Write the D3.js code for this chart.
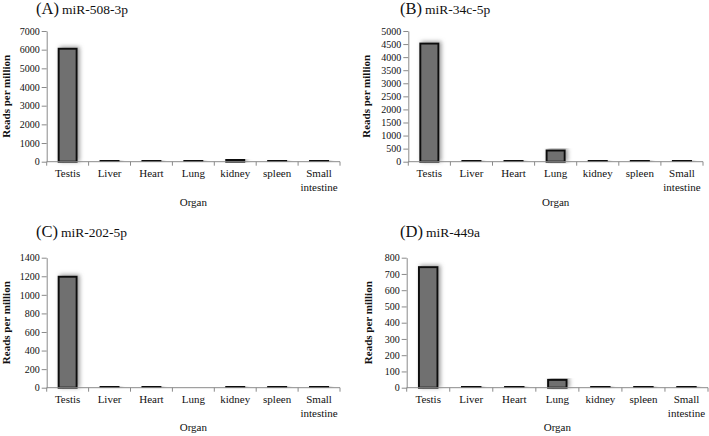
<!DOCTYPE html>
<html>
<head>
<meta charset="utf-8">
<script src="https://cdn.jsdelivr.net/npm/d3@7"></script>
<style>
  html, body { margin: 0; padding: 0; background: #fff; }
  svg text { font-family: 'Liberation Serif', 'Times New Roman', 'DejaVu Serif', serif !important; }
</style>
</head>
<body>
<svg id="chart" width="709" height="436"></svg>
<script>
// ---- data ----
const organs = ["Testis", "Liver", "Heart", "Lung", "kidney", "spleen", "Small intestine"];

const letters = ["(A)", "(B)", "(C)", "(D)"];
const mirNames = ["miR-508-3p", "miR-34c-5p", "miR-202-5p", "miR-449a"];

const valuesA = [6050, 60, 60, 55, 95, 55, 60];
const valuesB = [4520, 30, 30, 430, 30, 50, 30];
const valuesC = [1195, 8, 8, 0, 8, 8, 8];
const valuesD = [742, 6, 6, 48, 6, 6, 6];

const ticksA = [0, 1000, 2000, 3000, 4000, 5000, 6000, 7000];
const ticksB = [0, 500, 1000, 1500, 2000, 2500, 3000, 3500, 4000, 4500, 5000];
const ticksC = [0, 200, 400, 600, 800, 1000, 1200, 1400];
const ticksD = [0, 100, 200, 300, 400, 500, 600, 700, 800];

const yAxisTitle = "Reads per million";
const xAxisTitle = "Organ";

// ---- layout ----
const FONT = "'Liberation Serif', 'Times New Roman', serif";
const panels = [
  { values: valuesA, ticks: ticksA, x0: 46.7, x1: 340, yTop: 31, yBot: 161.7, titleX: 36, titleY: 14, yLabX: 10, orgY: 206 },
  { values: valuesB, ticks: ticksB, x0: 408.3, x1: 703, yTop: 31, yBot: 161.7, titleX: 400, titleY: 14, yLabX: 370, orgY: 206 },
  { values: valuesC, ticks: ticksC, x0: 46.7, x1: 340, yTop: 257.7, yBot: 387.7, titleX: 36, titleY: 237, yLabX: 10, orgY: 431 },
  { values: valuesD, ticks: ticksD, x0: 406.7, x1: 708, yTop: 257.7, yBot: 387.7, titleX: 400, titleY: 237, yLabX: 372, orgY: 431 }
];

const svg = d3.select("#chart").attr("font-family", FONT);

const defs = svg.append("defs");
const f = defs.append("filter").attr("id", "glow")
  .attr("x", "-60%").attr("y", "-20%").attr("width", "220%").attr("height", "140%");
f.append("feDropShadow").attr("dx", 2).attr("dy", -1).attr("stdDeviation", 2.2)
  .attr("flood-color", "#777").attr("flood-opacity", 0.75);

panels.forEach((p, i) => {
  const g = svg.append("g");
  const x = d3.scaleBand().domain(organs).range([p.x0, p.x1]).paddingInner(0).paddingOuter(0);
  const y = d3.scaleLinear().domain([0, d3.max(p.ticks)]).range([p.yBot, p.yTop]);

  // title
  const t = g.append("text").attr("x", p.titleX).attr("y", p.titleY).attr("fill", "#111");
  t.append("tspan").attr("font-size", 16.5).text(letters[i]);
  t.append("tspan").attr("font-size", 13.5).attr("dx", 3).text(mirNames[i]);

  // y axis
  const yAxis = d3.axisLeft(y).tickValues(p.ticks).tickSize(5).tickSizeOuter(0).tickPadding(2)
    .tickFormat(d3.format("d"));
  const ya = g.append("g").attr("transform", `translate(${p.x0},0)`).call(yAxis)
    .attr("font-family", FONT);
  ya.select(".domain").attr("stroke", "#8a8a8a");
  ya.selectAll(".tick line").attr("stroke", "#8a8a8a");
  ya.selectAll(".tick text").attr("font-size", 10).attr("fill", "#111");

  // bars
  const bw = x.bandwidth() * 0.43;
  g.selectAll("rect.bar").data(organs.map((o, k) => ({ o, v: p.values[k] })).filter(d => d.v > 0))
    .enter().append("rect")
    .attr("class", "bar")
    .attr("x", d => x(d.o) + (x.bandwidth() - bw) / 2)
    .attr("y", d => y(d.v))
    .attr("width", bw)
    .attr("height", d => Math.max(0.5, p.yBot - y(d.v)))
    .attr("fill", "#707070")
    .attr("stroke", "#111")
    .attr("stroke-width", 2)
    .attr("filter", "url(#glow)");

  // x axis
  const xa = g.append("g").attr("transform", `translate(0,${p.yBot})`);
  xa.append("line").attr("x1", p.x0).attr("x2", p.x1).attr("y1", 0).attr("y2", 0)
    .attr("stroke", "#8a8a8a");
  const bounds = organs.map(o => x(o)).concat([p.x1]);
  xa.selectAll("line.tk").data(bounds).enter().append("line").attr("class", "tk")
    .attr("x1", d => d).attr("x2", d => d).attr("y1", 0).attr("y2", 4).attr("stroke", "#8a8a8a");

  const labels = xa.selectAll("text.cat").data(organs).enter().append("text").attr("class", "cat")
    .attr("x", d => x(d) + x.bandwidth() / 2)
    .attr("y", 15.5)
    .attr("text-anchor", "middle")
    .attr("font-size", 11)
    .attr("fill", "#111");
  labels.each(function (d) {
    const parts = d.split(" ");
    const el = d3.select(this);
    parts.forEach((w, k) => {
      el.append("tspan").attr("x", x(d) + x.bandwidth() / 2).attr("dy", k === 0 ? 0 : 14).text(w);
    });
  });

  // axis titles
  g.append("text").attr("x", (p.x0 + p.x1) / 2).attr("y", p.orgY).attr("text-anchor", "middle")
    .attr("font-size", 11).attr("fill", "#111").text(xAxisTitle);
  g.append("text")
    .attr("transform", `translate(${p.yLabX},${(p.yTop + p.yBot) / 2}) rotate(-90)`)
    .attr("text-anchor", "middle").attr("font-size", 11).attr("font-weight", "bold")
    .attr("fill", "#111").text(yAxisTitle);
});
</script>
</body>
</html>
